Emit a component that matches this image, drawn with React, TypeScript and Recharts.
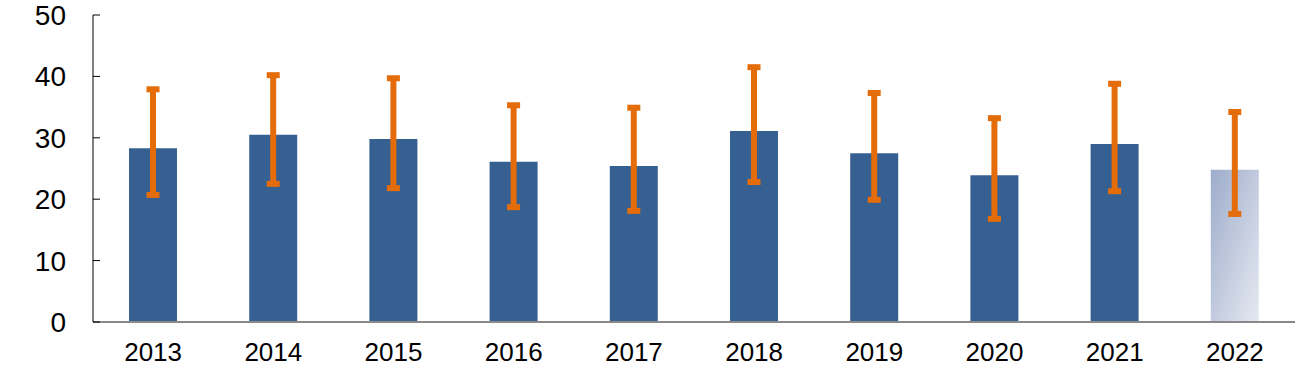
import React from 'react';
import { BarChart, Bar, XAxis, YAxis, ErrorBar, Cell } from 'recharts';

const years = ['2013', '2014', '2015', '2016', '2017', '2018', '2019', '2020', '2021', '2022'];
const values = [28.3, 30.5, 29.8, 26.1, 25.4, 31.1, 27.5, 23.9, 29.0, 24.8];
const upperBounds = [37.9, 40.2, 39.7, 35.3, 34.9, 41.5, 37.3, 33.2, 38.8, 34.2];
const lowerBounds = [20.7, 22.5, 21.8, 18.7, 18.1, 22.8, 19.9, 16.8, 21.3, 17.6];
const yTicks = [0, 10, 20, 30, 40, 50];

const data = years.map((year, i) => ({
  year,
  value: values[i],
  err: [values[i] - lowerBounds[i], upperBounds[i] - values[i]],
}));

const FONT = '"Liberation Sans", Arial, sans-serif';

const YTick = (props: any) => {
  const { x, y, payload } = props;
  return (
    <g>
      <line x1={x + 27} x2={x + 34} y1={y} y2={y} stroke="#000" strokeWidth={1} />
      <text x={x} y={y} dy="0.36em" textAnchor="end" fontSize={28} fontFamily={FONT} fill="#000">
        {payload.value}
      </text>
    </g>
  );
};

const XTick = (props: any) => {
  const { x, y, payload } = props;
  return (
    <text x={x} y={y} dy="0.71em" textAnchor="middle" fontSize={26} fontFamily={FONT} fill="#000">
      {payload.value}
    </text>
  );
};

export default function App() {
  return (
    <div style={{ position: 'absolute', left: 0, top: 0, width: 1312, height: 376, background: '#fff' }}>
      <BarChart
        width={1312}
        height={376}
        data={data}
        margin={{ top: 15, right: 17, bottom: 0, left: 0 }}
        barSize={48}
      >
        <defs>
          <linearGradient id="g2022" x1="0" y1="0" x2="1" y2="1">
            <stop offset="0%" stopColor="#9DACCB" />
            <stop offset="100%" stopColor="#E6E9F1" />
          </linearGradient>
        </defs>
        <XAxis
          dataKey="year"
          height={54}
          tickLine={false}
          tickSize={0}
          tickMargin={21}
          axisLine={{ stroke: '#898989', strokeWidth: 2 }}
          tick={<XTick />}
          interval={0}
        />
        <YAxis
          width={93}
          domain={[0, 50]}
          ticks={yTicks}
          tickLine={false}
          tickSize={0}
          tickMargin={27}
          axisLine={{ stroke: '#000', strokeWidth: 1 }}
          tick={<YTick />}
          interval={0}
        />
        <Bar dataKey="value" isAnimationActive={false}>
          {data.map((d, i) => (
            <Cell key={d.year} fill={i === data.length - 1 ? 'url(#g2022)' : '#366092'} />
          ))}
          <ErrorBar
            dataKey="err"
            direction="y"
            width={6.5}
            strokeWidth={6}
            stroke="#E46C0A"
            isAnimationActive={false}
          />
        </Bar>
      </BarChart>
    </div>
  );
}
